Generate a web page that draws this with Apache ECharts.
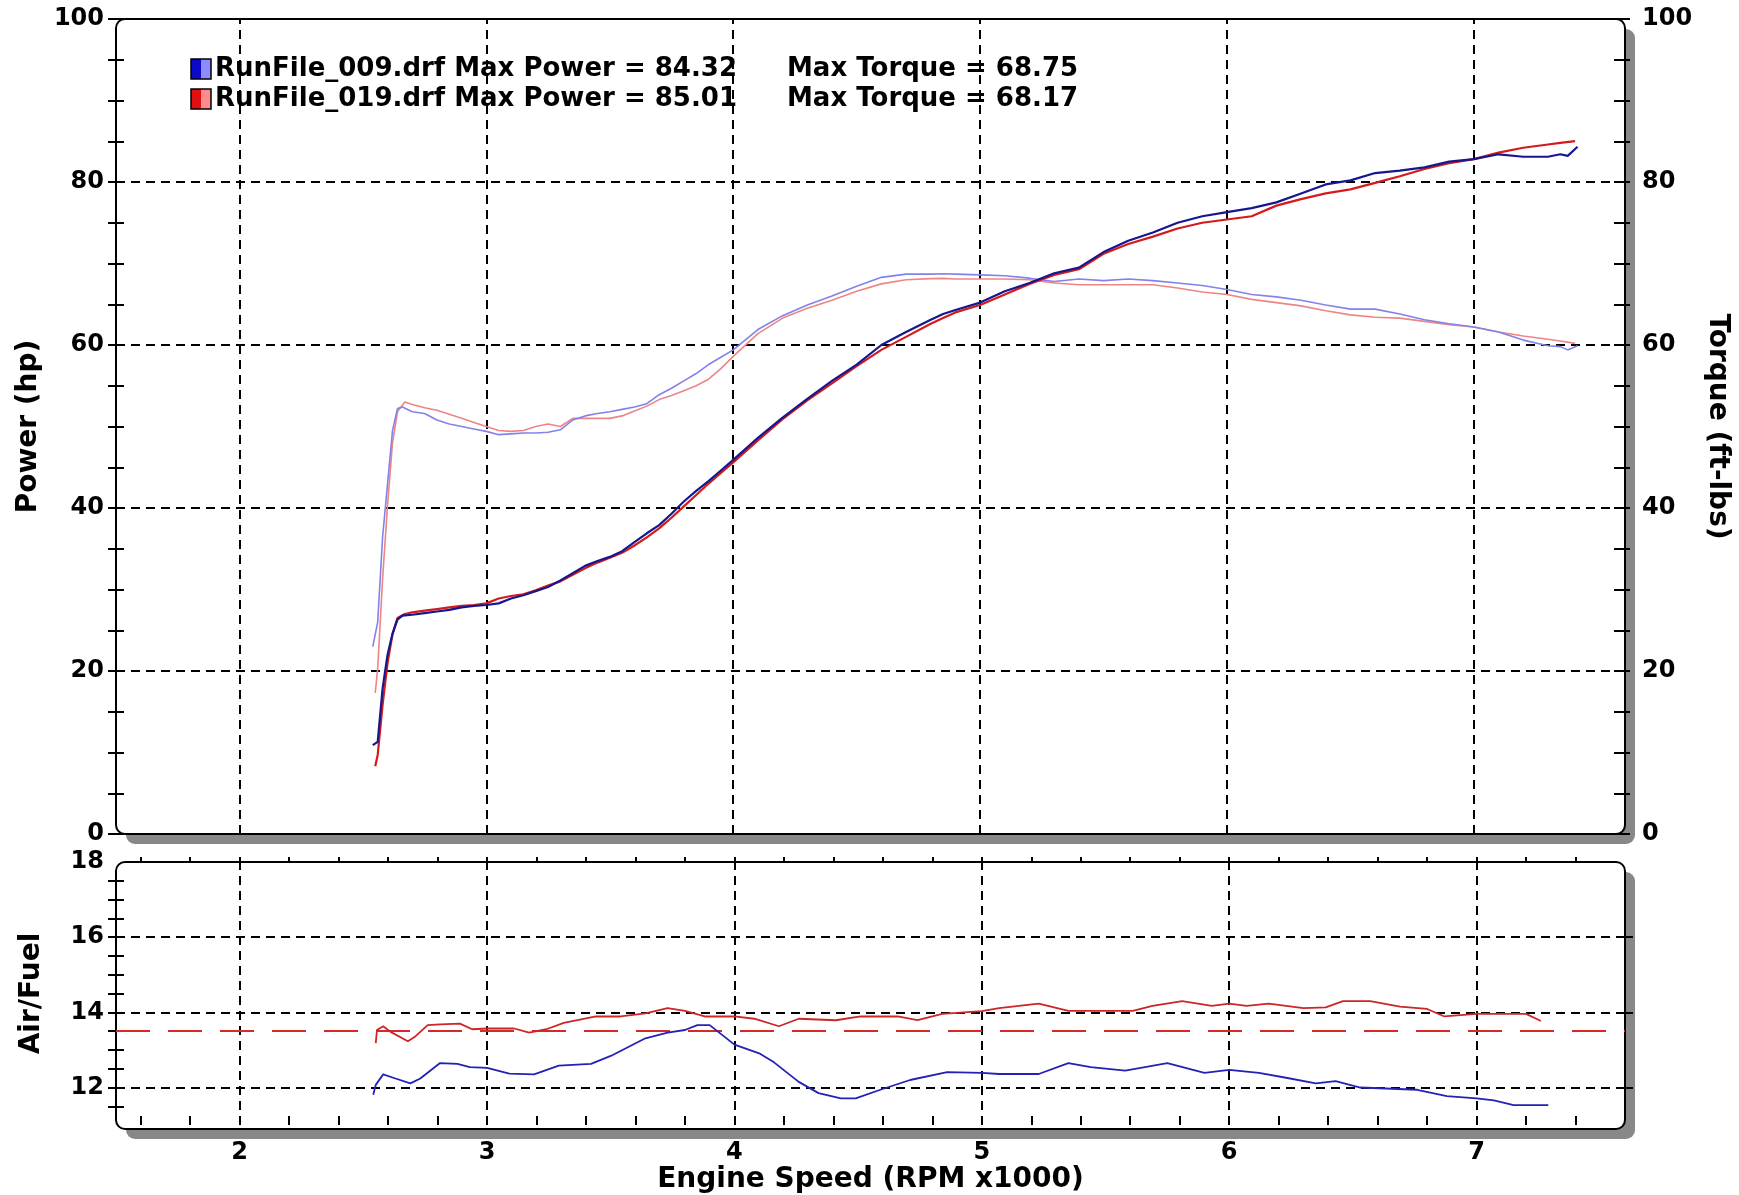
<!DOCTYPE html>
<html>
<head>
<meta charset="utf-8">
<title>Dyno comparison</title>
<script src="https://cdn.jsdelivr.net/npm/echarts@6/dist/echarts.min.js"></script>
<style>
  html, body { margin: 0; padding: 0; background: #ffffff; }
  #chart { width: 1739px; height: 1195px; }
</style>
</head>
<body>
<div id="chart"></div>
<script>
// ---- Run summary ----
const RUNS = ['RunFile_009.drf', 'RunFile_019.drf'];
const MAX_POWER = [84.32, 85.01];
const MAX_TORQUE = [68.75, 68.17];

// ---- Run 009: power (hp) and torque (ft-lbs) vs engine speed (RPM x1000) ----
const rpm009 = [2.54, 2.56, 2.58, 2.60, 2.62, 2.64, 2.66, 2.70, 2.75, 2.80, 2.85, 2.90, 2.95, 3.00, 3.05, 3.10,
  3.15, 3.20, 3.25, 3.30, 3.35, 3.40, 3.45, 3.50, 3.55, 3.60, 3.65, 3.70, 3.75, 3.80, 3.85, 3.90, 3.95, 4.00,
  4.10, 4.20, 4.30, 4.40, 4.50, 4.60, 4.70, 4.80, 4.85, 4.90, 5.00, 5.10, 5.20, 5.30, 5.40, 5.50, 5.60, 5.70,
  5.80, 5.90, 6.00, 6.10, 6.20, 6.30, 6.40, 6.50, 6.60, 6.70, 6.80, 6.90, 7.00, 7.10, 7.20, 7.30, 7.35, 7.38, 7.42];
const power009 = [10.9, 11.3, 17.9, 22.0, 24.6, 26.3, 26.8, 26.9, 27.1, 27.3, 27.5, 27.8, 28.0, 28.1, 28.3, 28.9,
  29.3, 29.8, 30.3, 31.1, 32.0, 32.9, 33.5, 34.0, 34.7, 35.8, 36.9, 37.9, 39.3, 40.8, 42.1, 43.3, 44.6, 45.9,
  48.6, 51.1, 53.4, 55.6, 57.6, 60.0, 61.6, 63.1, 63.8, 64.3, 65.2, 66.6, 67.6, 68.8, 69.5, 71.4, 72.8, 73.8,
  75.0, 75.8, 76.3, 76.8, 77.5, 78.6, 79.7, 80.2, 81.1, 81.4, 81.8, 82.5, 82.8, 83.4, 83.1, 83.1, 83.4, 83.2, 84.32];
const torque009 = [23.0, 26.0, 36.5, 43.0, 49.5, 52.2, 52.4, 51.8, 51.6, 50.8, 50.3, 50.0, 49.7, 49.4, 49.0, 49.1,
  49.2, 49.2, 49.3, 49.6, 50.8, 51.3, 51.6, 51.8, 52.1, 52.4, 52.8, 53.9, 54.7, 55.6, 56.5, 57.6, 58.5, 59.4,
  61.9, 63.6, 64.9, 66.0, 67.2, 68.3, 68.7, 68.7, 68.75, 68.7, 68.6, 68.5, 68.2, 67.8, 68.1, 67.9, 68.1, 67.9,
  67.6, 67.3, 66.8, 66.2, 65.9, 65.5, 64.9, 64.4, 64.4, 63.8, 63.1, 62.6, 62.2, 61.6, 60.6, 59.9, 59.8, 59.4, 59.9];

// ---- Run 019: power (hp) and torque (ft-lbs) ----
const rpm019 = [2.55, 2.56, 2.58, 2.60, 2.62, 2.64, 2.67, 2.70, 2.75, 2.80, 2.85, 2.90, 2.95, 3.00, 3.05, 3.10,
  3.15, 3.20, 3.25, 3.30, 3.35, 3.40, 3.45, 3.50, 3.55, 3.60, 3.65, 3.70, 3.75, 3.80, 3.85, 3.90, 3.95, 4.00,
  4.10, 4.20, 4.30, 4.40, 4.50, 4.60, 4.70, 4.80, 4.85, 4.90, 5.00, 5.10, 5.20, 5.30, 5.40, 5.50, 5.60, 5.70,
  5.80, 5.90, 6.00, 6.10, 6.20, 6.30, 6.40, 6.50, 6.60, 6.70, 6.80, 6.90, 7.00, 7.10, 7.20, 7.30, 7.35, 7.41];
const power019 = [8.3, 9.7, 15.9, 21.0, 24.5, 26.5, 27.0, 27.2, 27.4, 27.6, 27.8, 28.0, 28.1, 28.3, 28.9, 29.2,
  29.4, 29.9, 30.5, 31.0, 31.8, 32.6, 33.3, 33.9, 34.5, 35.4, 36.4, 37.5, 38.8, 40.2, 41.6, 43.0, 44.3, 45.6,
  48.3, 50.9, 53.2, 55.3, 57.4, 59.4, 61.0, 62.6, 63.3, 64.0, 64.9, 66.2, 67.5, 68.6, 69.3, 71.2, 72.4, 73.3,
  74.3, 75.0, 75.4, 75.8, 77.1, 77.9, 78.6, 79.1, 79.9, 80.7, 81.6, 82.3, 82.8, 83.6, 84.2, 84.6, 84.8, 85.01];
const torque019 = [17.3, 20.3, 31.4, 40.4, 48.0, 51.8, 53.0, 52.7, 52.3, 52.0, 51.5, 51.0, 50.5, 50.0, 49.5, 49.4,
  49.5, 50.0, 50.3, 50.0, 51.0, 51.0, 51.0, 51.0, 51.3, 51.9, 52.5, 53.3, 53.8, 54.4, 55.0, 55.8, 57.1, 58.6,
  61.4, 63.3, 64.5, 65.5, 66.6, 67.5, 68.0, 68.15, 68.17, 68.1, 68.1, 68.1, 68.0, 67.6, 67.4, 67.4, 67.4, 67.4,
  67.0, 66.5, 66.2, 65.6, 65.2, 64.8, 64.2, 63.7, 63.4, 63.3, 62.9, 62.5, 62.2, 61.6, 61.1, 60.7, 60.5, 60.2];

// ---- Air/fuel ratio ----
const afrRpm009 = [2.54, 2.55, 2.58, 2.63, 2.69, 2.73, 2.81, 2.88, 2.93, 3.00, 3.09, 3.19, 3.29, 3.42, 3.50, 3.64,
  3.73, 3.80, 3.85, 3.90, 4.00, 4.10, 4.16, 4.26, 4.34, 4.43, 4.49, 4.59, 4.71, 4.86, 5.00, 5.07, 5.23, 5.35,
  5.44, 5.58, 5.75, 5.90, 6.00, 6.12, 6.23, 6.35, 6.43, 6.53, 6.76, 6.88, 7.00, 7.07, 7.15, 7.29];
const afr009 = [11.81, 12.07, 12.35, 12.24, 12.11, 12.24, 12.65, 12.63, 12.54, 12.52, 12.37, 12.35, 12.58, 12.63,
  12.84, 13.31, 13.46, 13.53, 13.66, 13.66, 13.14, 12.91, 12.67, 12.15, 11.85, 11.71, 11.71, 11.94, 12.20, 12.41,
  12.39, 12.36, 12.36, 12.65, 12.54, 12.45, 12.65, 12.39, 12.47, 12.39, 12.26, 12.11, 12.17, 12.00, 11.94, 11.77,
  11.71, 11.66, 11.53, 11.53];
const afrRpm019 = [2.55, 2.555, 2.58, 2.61, 2.68, 2.71, 2.76, 2.81, 2.89, 2.94, 3.00, 3.11, 3.17, 3.24, 3.31, 3.44,
  3.54, 3.64, 3.73, 3.80, 3.88, 4.00, 4.08, 4.18, 4.26, 4.41, 4.51, 4.66, 4.74, 4.84, 5.00, 5.07, 5.23, 5.35,
  5.61, 5.69, 5.81, 5.93, 6.00, 6.07, 6.16, 6.30, 6.39, 6.46, 6.57, 6.69, 6.80, 6.87, 7.00, 7.20, 7.26];
const afr019 = [13.18, 13.53, 13.63, 13.48, 13.23, 13.36, 13.66, 13.68, 13.70, 13.55, 13.57, 13.57, 13.46, 13.55,
  13.72, 13.89, 13.89, 13.97, 14.11, 14.04, 13.89, 13.89, 13.83, 13.63, 13.83, 13.79, 13.89, 13.89, 13.79, 13.96,
  14.03, 14.11, 14.23, 14.04, 14.04, 14.17, 14.30, 14.17, 14.23, 14.17, 14.23, 14.11, 14.13, 14.30, 14.30, 14.15,
  14.09, 13.89, 13.96, 13.96, 13.77];
const TARGET_AFR = 13.5;

// ---- Axis ticks / grid lines ----
const RPM_RANGE = [1.5, 7.6];
const RPM_LABELS = [2, 3, 4, 5, 6, 7];
const RPM_TICKS = [1.6, 1.8, 2, 2.2, 2.4, 2.6, 2.8, 3, 3.2, 3.4, 3.6, 3.8, 4, 4.2, 4.4, 4.6, 4.8, 5, 5.2, 5.4,
  5.6, 5.8, 6, 6.2, 6.4, 6.6, 6.8, 7, 7.2, 7.4];
const POWER_RANGE = [0, 100];
const POWER_GRID = [20, 40, 60, 80];
const AFR_RANGE = [11, 18];
const AFR_LABELS = [12, 14, 16, 18];
const AFR_TICKS = [11.5, 12, 12.5, 13, 13.5, 14, 14.5, 15, 15.5, 16, 16.5, 17, 17.5];
const AFR_GRID = [12, 14, 16];

// ---- Layout ----
const FONT = 'DejaVu Sans';
const UP = { left: 116, top: 19, width: 1509, height: 815 };
const LO = { left: 116, top: 862, width: 1509, height: 267 };
const SHADOW = 10;

const zip = (xs, ys) => xs.map((x, i) => [x, ys[i]]);
const tickLine = { color: '#000', width: 2 };
const labelStyle = { fontFamily: FONT, fontWeight: 'bold', fontSize: 24, color: '#000' };
const nameStyle = { fontFamily: FONT, fontWeight: 'bold', fontSize: 28, color: '#000' };
const gridDash = { color: '#000', width: 2, type: [9, 6] };
const LEGEND_FONT = 'bold 26px "' + FONT + '"';

function hidden(extra) {
  return Object.assign({
    axisLine: { show: false }, splitLine: { show: false },
    axisLabel: { show: false }, axisTick: { show: false }
  }, extra);
}

// Plot frames: rounded white panel with a grey drop shadow on the right/bottom
function frame(box) {
  return [
    { type: 'rect', z: -20, silent: true,
      shape: { x: box.left + SHADOW, y: box.top + SHADOW, width: box.width, height: box.height, r: 9 },
      style: { fill: '#888888' } },
    { type: 'rect', z: -10, silent: true,
      shape: { x: box.left, y: box.top, width: box.width, height: box.height, r: 9 },
      style: { fill: '#ffffff', stroke: '#000', lineWidth: 2 } }
  ];
}

// Legend: split swatch (power colour | torque colour) and run summary text
const SWATCH = [['#0a0ac8', '#8c8cff'], ['#e01010', '#ff8c8c']];
function legendRow(i, y) {
  return [
    { type: 'rect', z: -5, silent: true, shape: { x: 191, y: y - 10, width: 10, height: 20 }, style: { fill: SWATCH[i][0] } },
    { type: 'rect', z: -5, silent: true, shape: { x: 201, y: y - 10, width: 10, height: 20 }, style: { fill: SWATCH[i][1] } },
    { type: 'rect', z: -5, silent: true, shape: { x: 191, y: y - 10, width: 20, height: 20 }, style: { fill: 'none', stroke: '#000', lineWidth: 1.5 } },
    { type: 'text', z: -5, silent: true, x: 215, y: y,
      style: { text: RUNS[i] + ' Max Power = ' + MAX_POWER[i].toFixed(2), font: LEGEND_FONT, fill: '#000', verticalAlign: 'middle' } },
    { type: 'text', z: -5, silent: true, x: 787, y: y,
      style: { text: 'Max Torque = ' + MAX_TORQUE[i].toFixed(2), font: LEGEND_FONT, fill: '#000', verticalAlign: 'middle' } }
  ];
}

const markCommon = {
  silent: true, symbol: ['none', 'none'], label: { show: false },
  animation: false, z: 1
};

const option = {
  backgroundColor: '#ffffff',
  animation: false,
  graphic: { elements: [...frame(UP), ...frame(LO), ...legendRow(0, 69), ...legendRow(1, 99)] },
  grid: [
    Object.assign({ containLabel: false }, UP),
    Object.assign({ containLabel: false }, LO)
  ],
  xAxis: [
    hidden({ type: 'value', gridIndex: 0, min: RPM_RANGE[0], max: RPM_RANGE[1] }),
    {
      type: 'value', gridIndex: 1, min: RPM_RANGE[0], max: RPM_RANGE[1],
      axisLine: { show: false }, splitLine: { show: false },
      axisTick: { show: true, inside: true, length: 9, customValues: RPM_TICKS, lineStyle: tickLine },
      axisLabel: Object.assign({ customValues: RPM_LABELS, margin: 16 }, labelStyle),
      name: 'Engine Speed (RPM x1000)', nameLocation: 'middle', nameGap: 40, nameTextStyle: nameStyle
    },
    hidden({ type: 'value', gridIndex: 1, min: RPM_RANGE[0], max: RPM_RANGE[1],
      axisTick: { show: true, inside: false, length: 5, customValues: RPM_TICKS, lineStyle: tickLine } })
  ],
  yAxis: [
    {
      type: 'value', gridIndex: 0, position: 'left', min: POWER_RANGE[0], max: POWER_RANGE[1], interval: 20,
      axisLine: { show: false }, splitLine: { show: false },
      axisTick: { show: true, inside: false, length: 8, lineStyle: tickLine },
      minorTick: { show: true, splitNumber: 4, length: 8, lineStyle: tickLine },
      axisLabel: Object.assign({ margin: 12 }, labelStyle),
      name: 'Power (hp)', nameLocation: 'middle', nameGap: 70, nameTextStyle: nameStyle
    },
    hidden({ type: 'value', gridIndex: 0, position: 'left', min: POWER_RANGE[0], max: POWER_RANGE[1], interval: 20,
      axisTick: { show: true, inside: true, length: 8, lineStyle: tickLine },
      minorTick: { show: true, splitNumber: 4, length: 8, lineStyle: tickLine } }),
    {
      type: 'value', gridIndex: 0, position: 'right', min: POWER_RANGE[0], max: POWER_RANGE[1], interval: 20,
      axisLine: { show: false }, splitLine: { show: false },
      axisTick: { show: true, inside: false, length: 8, lineStyle: tickLine },
      minorTick: { show: true, splitNumber: 4, length: 8, lineStyle: tickLine },
      axisLabel: Object.assign({ margin: 20 }, labelStyle),
      name: 'Torque (ft-lbs)', nameLocation: 'middle', nameGap: 70, nameRotate: -90, nameTextStyle: nameStyle
    },
    hidden({ type: 'value', gridIndex: 0, position: 'right', min: POWER_RANGE[0], max: POWER_RANGE[1], interval: 20,
      axisTick: { show: true, inside: true, length: 8, lineStyle: tickLine },
      minorTick: { show: true, splitNumber: 4, length: 8, lineStyle: tickLine } }),
    {
      type: 'value', gridIndex: 1, position: 'left', min: AFR_RANGE[0], max: AFR_RANGE[1],
      axisLine: { show: false }, splitLine: { show: false },
      axisTick: { show: true, inside: false, length: 8, customValues: AFR_TICKS, lineStyle: tickLine },
      axisLabel: Object.assign({ margin: 12, customValues: AFR_LABELS }, labelStyle),
      name: 'Air/Fuel', nameLocation: 'middle', nameGap: 70, nameTextStyle: nameStyle
    },
    hidden({ type: 'value', gridIndex: 1, position: 'left', min: AFR_RANGE[0], max: AFR_RANGE[1],
      axisTick: { show: true, inside: true, length: 8, customValues: AFR_TICKS, lineStyle: tickLine } }),
    hidden({ type: 'value', gridIndex: 1, position: 'right', min: AFR_RANGE[0], max: AFR_RANGE[1],
      axisTick: { show: true, inside: false, length: 8, customValues: AFR_GRID, lineStyle: tickLine } }),
    hidden({ type: 'value', gridIndex: 1, position: 'right', min: AFR_RANGE[0], max: AFR_RANGE[1],
      axisTick: { show: true, inside: true, length: 8, customValues: AFR_GRID, lineStyle: tickLine } })
  ],
  series: [
    {
      name: 'Torque ' + RUNS[1], type: 'line', xAxisIndex: 0, yAxisIndex: 2, data: zip(rpm019, torque019),
      showSymbol: false, symbol: 'none', lineStyle: { color: '#ee8585', width: 1.6 }, itemStyle: { color: '#ee8585' },
      markLine: Object.assign({
        lineStyle: gridDash,
        data: [...RPM_LABELS.map(v => ({ xAxis: v })), ...POWER_GRID.map(v => ({ yAxis: v }))]
      }, markCommon)
    },
    {
      name: 'Torque ' + RUNS[0], type: 'line', xAxisIndex: 0, yAxisIndex: 2, data: zip(rpm009, torque009),
      showSymbol: false, symbol: 'none', lineStyle: { color: '#8282ea', width: 1.6 }, itemStyle: { color: '#8282ea' }
    },
    {
      name: 'Power ' + RUNS[1], type: 'line', xAxisIndex: 0, yAxisIndex: 0, data: zip(rpm019, power019),
      showSymbol: false, symbol: 'none', lineStyle: { color: '#d41a1a', width: 2.2 }, itemStyle: { color: '#d41a1a' }
    },
    {
      name: 'Power ' + RUNS[0], type: 'line', xAxisIndex: 0, yAxisIndex: 0, data: zip(rpm009, power009),
      showSymbol: false, symbol: 'none', lineStyle: { color: '#16168e', width: 2.2 }, itemStyle: { color: '#16168e' }
    },
    {
      name: 'AFR ' + RUNS[0], type: 'line', xAxisIndex: 1, yAxisIndex: 4, data: zip(afrRpm009, afr009),
      showSymbol: false, symbol: 'none', lineStyle: { color: '#2222b4', width: 1.8 }, itemStyle: { color: '#2222b4' },
      markLine: Object.assign({
        lineStyle: gridDash,
        data: [...RPM_LABELS.map(v => ({ xAxis: v })), ...AFR_GRID.map(v => ({ yAxis: v }))]
      }, markCommon)
    },
    {
      name: 'AFR ' + RUNS[1], type: 'line', xAxisIndex: 1, yAxisIndex: 4, data: zip(afrRpm019, afr019),
      showSymbol: false, symbol: 'none', lineStyle: { color: '#cc2626', width: 1.8 }, itemStyle: { color: '#cc2626' },
      markLine: Object.assign({
        lineStyle: { color: '#d42a2a', width: 2, type: [34, 18] },
        data: [{ yAxis: TARGET_AFR }]
      }, markCommon)
    }
  ]
};

const chart = echarts.init(document.getElementById('chart'), null, { renderer: 'canvas' });
chart.setOption(option);
</script>
</body>
</html>
